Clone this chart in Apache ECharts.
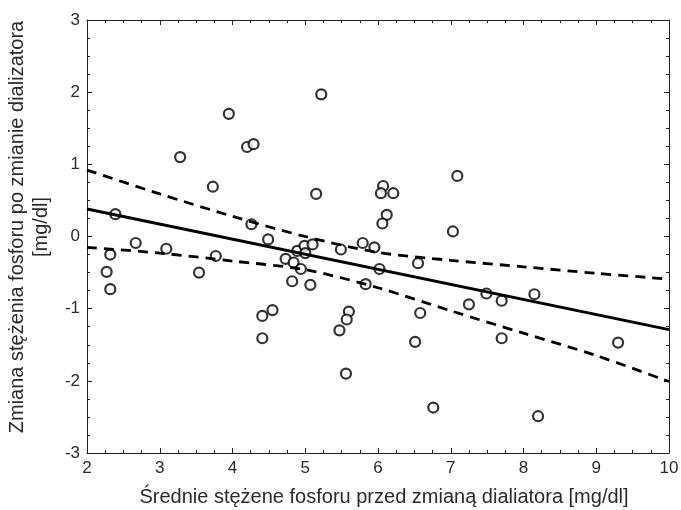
<!DOCTYPE html>
<html>
<head>
<meta charset="utf-8">
<script src="https://cdn.jsdelivr.net/npm/echarts@6/dist/echarts.min.js"></script>
<style>
  html, body { margin: 0; padding: 0; background: #fff; }
  #main { width: 681px; height: 510px; }
</style>
</head>
<body>
<div id="main"></div>
<script>
// punkty pomiarowe [x, y]
var pointsX = [5.22, 3.95, 4.20, 4.29, 3.28, 3.73, 5.15, 2.39, 4.26, 6.07,
               6.04, 6.21, 7.09, 6.12, 6.06, 7.03, 4.49, 2.67, 3.09, 2.32,
               2.27, 2.32, 3.54, 3.77, 4.41, 4.55, 4.41, 4.73, 4.84, 4.89,
               4.94, 4.82, 5.07, 4.99, 5.00, 5.10, 5.49, 5.79, 5.95, 6.02,
               5.83, 5.60, 5.57, 5.47, 5.56, 6.55, 6.58, 6.51, 6.76, 7.25,
               7.49, 7.70, 7.70, 8.15, 8.20, 9.30];
var pointsY = [1.97, 1.70, 1.24, 1.28, 1.10, 0.69, 0.59, 0.31, 0.17, 0.70,
               0.60, 0.60, 0.84, 0.30, 0.18, 0.07, -0.04, -0.09, -0.17, -0.25,
               -0.49, -0.73, -0.50, -0.27, -1.10, -1.02, -1.41, -0.31, -0.36, -0.20,
               -0.45, -0.62, -0.67, -0.13, -0.23, -0.11, -0.18, -0.09, -0.15, -0.45,
               -0.66, -1.04, -1.15, -1.30, -1.90, -0.37, -1.06, -1.46, -2.37, -0.94,
               -0.79, -0.89, -1.41, -0.80, -2.49, -1.47];

// linia regresji i przedzialy ufnosci
var lineX = [2, 10];
var lineY = [0.38, -1.29];
var bandX = [2, 3, 4, 5, 6, 7, 8, 9, 10];
var upperY = [0.92, 0.59, 0.28, 0.00, -0.22, -0.33, -0.42, -0.51, -0.59];
var lowerY = [-0.15, -0.23, -0.34, -0.46, -0.71, -1.03, -1.34, -1.65, -2.01];

var xTicks = [2, 10, 1];
var yTicks = [-3, 3, 1];

function pairs(xs, ys) {
    var out = [];
    for (var i = 0; i < xs.length; i++) {
        out.push([xs[i], ys[i]]);
    }
    return out;
}

var font = 'Liberation Sans, Arial, sans-serif';
var axisColor = '#222';
var textColor = '#2a2a2a';

function makeAxis(pos, range, showLabels, extra) {
    var ax = {
        type: 'value',
        position: pos,
        min: range[0],
        max: range[1],
        interval: range[2],
        axisLine: { show: true, onZero: false, lineStyle: { color: axisColor, width: 1 } },
        axisTick: { show: true, inside: true, length: 5, lineStyle: { color: axisColor } },
        minorTick: { show: true, splitNumber: 4, length: 3, lineStyle: { color: axisColor } },
        splitLine: { show: false },
        axisLabel: { show: showLabels, color: textColor, fontFamily: font, fontSize: 17, margin: 7 }
    };
    for (var k in extra) ax[k] = extra[k];
    return ax;
}

var myChart = echarts.init(document.getElementById('main'));
var option = {
    backgroundColor: '#fff',
    animation: false,
    grid: { left: 87, right: 12, top: 20, bottom: 57, containLabel: false, outerBoundsMode: 'none' },
    xAxis: [
        makeAxis('bottom', xTicks, true, {
            name: 'Średnie stężene fosforu przed zmianą dialiatora [mg/dl]',
            nameLocation: 'middle',
            nameGap: 34,
            nameTextStyle: { color: textColor, fontFamily: font, fontSize: 20, padding: [0, 0, 0, 12] }
        }),
        makeAxis('top', xTicks, false, {})
    ],
    yAxis: [
        makeAxis('left', yTicks, true, {
            name: 'Zmiana stężenia fosforu po zmianie dializatora\n[mg/dl]',
            nameLocation: 'middle',
            nameRotate: 90,
            nameGap: 32,
            nameTextStyle: { color: textColor, fontFamily: font, fontSize: 20, lineHeight: 24, align: 'center', padding: [0, 0, 0, 19] }
        }),
        makeAxis('right', yTicks, false, {})
    ],
    series: [
        {
            type: 'scatter',
            data: pairs(pointsX, pointsY),
            symbol: 'circle',
            symbolSize: 10,
            itemStyle: { color: '#fff', borderColor: '#000', borderWidth: 2.2 },
            z: 2
        },
        {
            type: 'line',
            data: pairs(lineX, lineY),
            symbol: 'none',
            lineStyle: { color: '#000', width: 3 },
            z: 3
        },
        {
            type: 'line',
            data: pairs(bandX, upperY),
            symbol: 'none',
            smooth: 0.3,
            lineStyle: { color: '#000', width: 2.8, type: [10, 7] },
            z: 3
        },
        {
            type: 'line',
            data: pairs(bandX, lowerY),
            symbol: 'none',
            smooth: 0.3,
            lineStyle: { color: '#000', width: 2.8, type: [10, 7] },
            z: 3
        }
    ]
};
myChart.setOption(option);
</script>
</body>
</html>
